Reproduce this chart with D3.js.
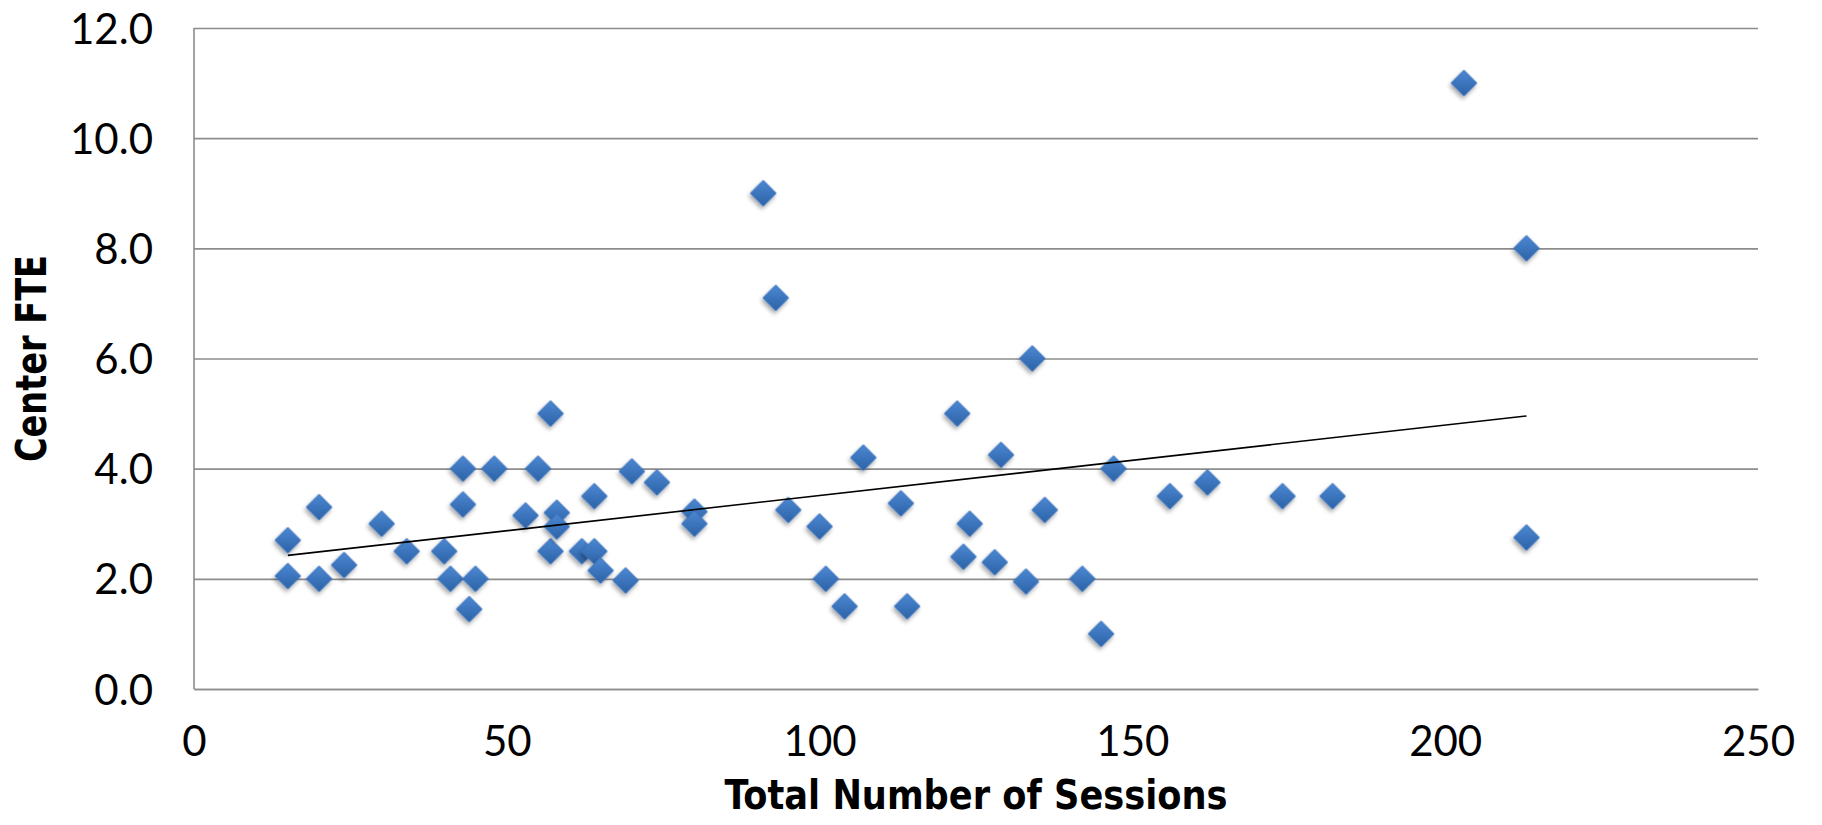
<!DOCTYPE html>
<html>
<head>
<meta charset="utf-8">
<script src="https://cdnjs.cloudflare.com/ajax/libs/d3/7.8.5/d3.min.js"></script>
<style>
  html, body { margin: 0; padding: 0; background: #fff; }
  svg { display: block; }
</style>
</head>
<body>
<svg id="chart" width="1822" height="825"></svg>
<script>
// ---- Data ----
const sessions = [15,15,20,20,24,30,34,40,41,43,43,44,45,48,53,55,57,57,58,58,62,64,64,65,69,70,74,80,80,91,93,95,100,101,104,107,113,114,122,123,124,128,129,133,134,136,142,145,147,156,162,174,182,203,213,213];
const fte      = [2.7,2.05,3.3,2.0,2.25,3.0,2.5,2.5,2.0,4.0,3.35,1.45,2.0,4.0,3.15,4.0,5.0,2.5,3.2,2.95,2.5,3.5,2.5,2.15,1.97,3.95,3.75,3.22,3.0,9.0,7.1,3.25,2.95,2.0,1.5,4.2,3.37,1.5,5.0,2.4,3.0,2.3,4.25,1.95,6.0,3.25,2.0,1.0,4.0,3.5,3.75,3.5,3.5,11.0,8.0,2.75];
const xTicks = [0, 50, 100, 150, 200, 250];
const yTicks = [0, 2, 4, 6, 8, 10, 12];
const xTitle = "Total Number of Sessions";
const yTitle = "Center FTE";

(function () {
const points = sessions.map((s, i) => ({x: s, y: fte[i]}));

// ---- Layout ----
const svg = d3.select("#chart");
const pL = 194, pR = 1758, pT = 28, pB = 689;

const x = d3.scaleLinear().domain([0, 250]).range([pL, pR]);
const y = d3.scaleLinear().domain([0, 12]).range([pB, pT]);

const defs = svg.append("defs");
const grad = defs.append("linearGradient").attr("id", "mk").attr("x1", 0).attr("y1", 0).attr("x2", 1).attr("y2", 1);
grad.append("stop").attr("offset", "0%").attr("stop-color", "#4c88d3");
grad.append("stop").attr("offset", "100%").attr("stop-color", "#2c62a6");
const f = defs.append("filter").attr("id", "sh").attr("x", "-50%").attr("y", "-50%").attr("width", "200%").attr("height", "200%");
f.append("feDropShadow").attr("dx", 1).attr("dy", 3).attr("stdDeviation", 2).attr("flood-color", "#000").attr("flood-opacity", 0.35);

// ---- Y axis with gridlines ----
const yAxis = svg.append("g")
  .attr("transform", `translate(${pL},0)`)
  .call(d3.axisLeft(y).tickValues(yTicks).tickFormat(d3.format(".1f")).tickSize(-(pR - pL)).tickPadding(41));
yAxis.select(".domain").remove();
yAxis.selectAll(".tick line").attr("stroke", "#8c8c8c").attr("stroke-width", 1.6);
yAxis.selectAll(".tick text")
  .attr("font-family", "Lato, 'Open Sans', sans-serif")
  .attr("font-size", 42).attr("fill", "#000").attr("dy", "0.36em");

// ---- X axis ----
const xAxis = svg.append("g")
  .attr("transform", `translate(0,${pB})`)
  .call(d3.axisBottom(x).tickValues(xTicks).tickFormat(d3.format("d")).tickSize(0).tickPadding(37));
xAxis.select(".domain").attr("stroke", "#8c8c8c").attr("stroke-width", 1.6);
xAxis.selectAll(".tick text")
  .attr("font-family", "Lato, 'Open Sans', sans-serif")
  .attr("font-size", 42).attr("fill", "#000");

// left axis line
svg.append("line").attr("x1", pL).attr("x2", pL).attr("y1", pT).attr("y2", pB)
  .attr("stroke", "#8c8c8c").attr("stroke-width", 1.6);

// ---- Markers ----
const diamond = d3.symbol().type(d3.symbolSquare).size(330);
svg.append("g").selectAll("path").data(points).join("path")
  .attr("d", diamond)
  .attr("transform", d => `translate(${x(d.x)},${y(d.y)}) rotate(45)`)
  .attr("fill", "url(#mk)")
  .attr("stroke", "#3a72bb").attr("stroke-width", 0.8)
  .attr("filter", "url(#sh)");

// ---- Linear trendline (least squares from the data) ----
const mx = d3.mean(points, d => d.x), my = d3.mean(points, d => d.y);
const slope = d3.sum(points, d => (d.x - mx) * (d.y - my)) / d3.sum(points, d => (d.x - mx) ** 2);
const icpt = my - slope * mx;
const [xmin, xmax] = d3.extent(points, d => d.x);
const trend = [{x: xmin, y: icpt + slope * xmin}, {x: xmax, y: icpt + slope * xmax}];
svg.append("path").datum(trend)
  .attr("d", d3.line().x(d => x(d.x)).y(d => y(d.y)))
  .attr("stroke", "#000").attr("stroke-width", 1.6).attr("fill", "none");

// ---- Titles ----
const tf = "'Liberation Sans Narrow', 'DejaVu Sans Condensed', 'Roboto Condensed', sans-serif";
svg.append("text")
  .attr("x", (pL + pR) / 2).attr("y", 809)
  .attr("text-anchor", "middle")
  .attr("font-family", tf).attr("font-weight", "bold").attr("font-size", 40)
  .attr("textLength", 503).attr("lengthAdjust", "spacingAndGlyphs")
  .text(xTitle);
svg.append("text")
  .attr("transform", `translate(46,${(pT + pB) / 2}) rotate(-90)`)
  .attr("text-anchor", "middle")
  .attr("font-family", tf).attr("font-weight", "bold").attr("font-size", 42)
  .attr("textLength", 207).attr("lengthAdjust", "spacingAndGlyphs")
  .text(yTitle);
})();
</script>
</body>
</html>
